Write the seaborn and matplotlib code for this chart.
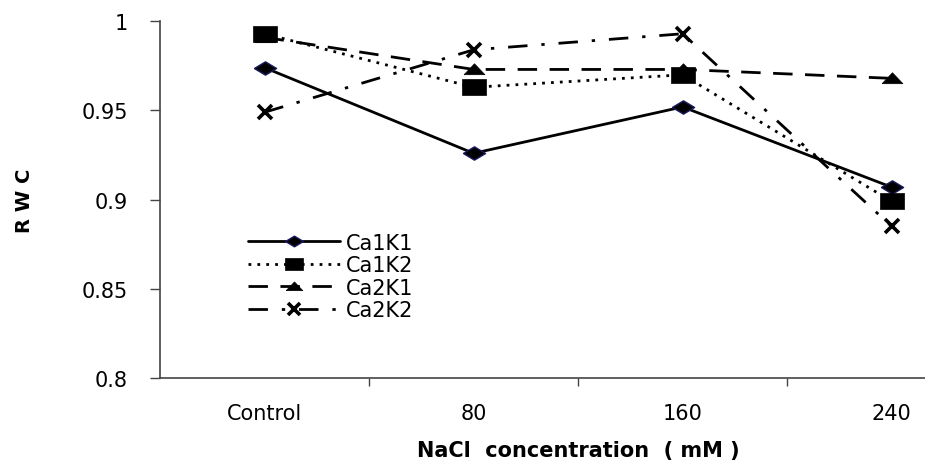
import numpy as np
import pandas as pd
import matplotlib.pyplot as plt
import seaborn as sns

# data
categories = ["Control", "80", "160", "240"]
ca1k1 = [0.974, 0.926, 0.952, 0.907]
ca1k2 = [0.993, 0.963, 0.970, 0.899]
ca2k1 = [0.991, 0.973, 0.973, 0.968]
ca2k2 = [0.949, 0.984, 0.993, 0.885]

series = {"Ca1K1": ca1k1, "Ca1K2": ca1k2, "Ca2K1": ca2k1, "Ca2K2": ca2k2}

# the original picture is stretched sideways, so the markers are too
diamond = [(-1, 0), (0, 0.6), (1, 0), (0, -0.6), (-1, 0)]
rect = [(-1, -0.65), (1, -0.65), (1, 0.65), (-1, 0.65), (-1, -0.65)]
tri = [(-1, -0.5), (1, -0.5), (0, 0.55), (-1, -0.5)]

styles = {
    "Ca1K1": dict(marker=diamond, linestyle="-", markersize=16, markeredgecolor="#1a1a5e",
                  markeredgewidth=1),
    "Ca1K2": dict(marker=rect, linestyle=(0, (1, 2.2)), markersize=17, markeredgecolor="black",
                  markeredgewidth=0.5),
    "Ca2K1": dict(marker=tri, linestyle=(0, (7, 4.5)), markersize=15, markeredgecolor="black",
                  markeredgewidth=0.5),
    "Ca2K2": dict(marker="x", linestyle=(0, (7, 5, 1.2, 5)), markersize=10, markeredgewidth=2.6,
                  markeredgecolor="black"),
}

sns.set_style("white", {"text.color": "black", "axes.labelcolor": "black",
                        "xtick.color": "black", "ytick.color": "black"})
plt.rcParams['font.family'] = ['DejaVu Sans']

fig = plt.figure(figsize=(9.25, 4.64), dpi=100)
# right end of the plot runs off the picture as in the reference
ax = fig.add_axes([0.173, 0.183, 0.904, 0.769])

x = np.arange(len(categories))
for name, vals in series.items():
    sns.lineplot(x=x, y=vals, ax=ax, color="black", linewidth=2,
                 label=name, **styles[name])

ax.set_xlim(-0.5, 3.5)
ax.set_ylim(0.8, 1.0)
ax.set_yticks([0.8, 0.85, 0.9, 0.95, 1.0])
ax.set_yticklabels(["0.8", "0.85", "0.9", "0.95", "1"], fontsize=15)
ax.set_xticks([0.5, 1.5, 2.5])
ax.set_xticklabels([])
ax.set_xticks(x, minor=True)
ax.set_xticklabels(categories, minor=True, fontsize=15)
ax.tick_params(axis="x", which="minor", length=0, pad=18)
ax.tick_params(axis="x", which="major", direction="out", length=6, width=1, color="#444444", bottom=True)
ax.tick_params(axis="y", direction="out", length=7, width=1, color="#444444", left=True, pad=16)

for s in ["top", "right"]:
    ax.spines[s].set_visible(False)
for s in ["left", "bottom"]:
    ax.spines[s].set_color("#444444")
    ax.spines[s].set_linewidth(1.2)

ax.set_xlabel("NaCl  concentration  ( mM )", fontsize=15, fontweight="bold", labelpad=12)
ax.set_ylabel("R W C", fontsize=14, fontweight="bold", labelpad=34)

leg = ax.legend(loc="upper left", bbox_to_anchor=(0.083, 0.46), frameon=False,
                fontsize=15, handlelength=4.4, labelspacing=0.12, handletextpad=0.3,
                markerscale=0.8)

fig.savefig("out.png", dpi=100)
